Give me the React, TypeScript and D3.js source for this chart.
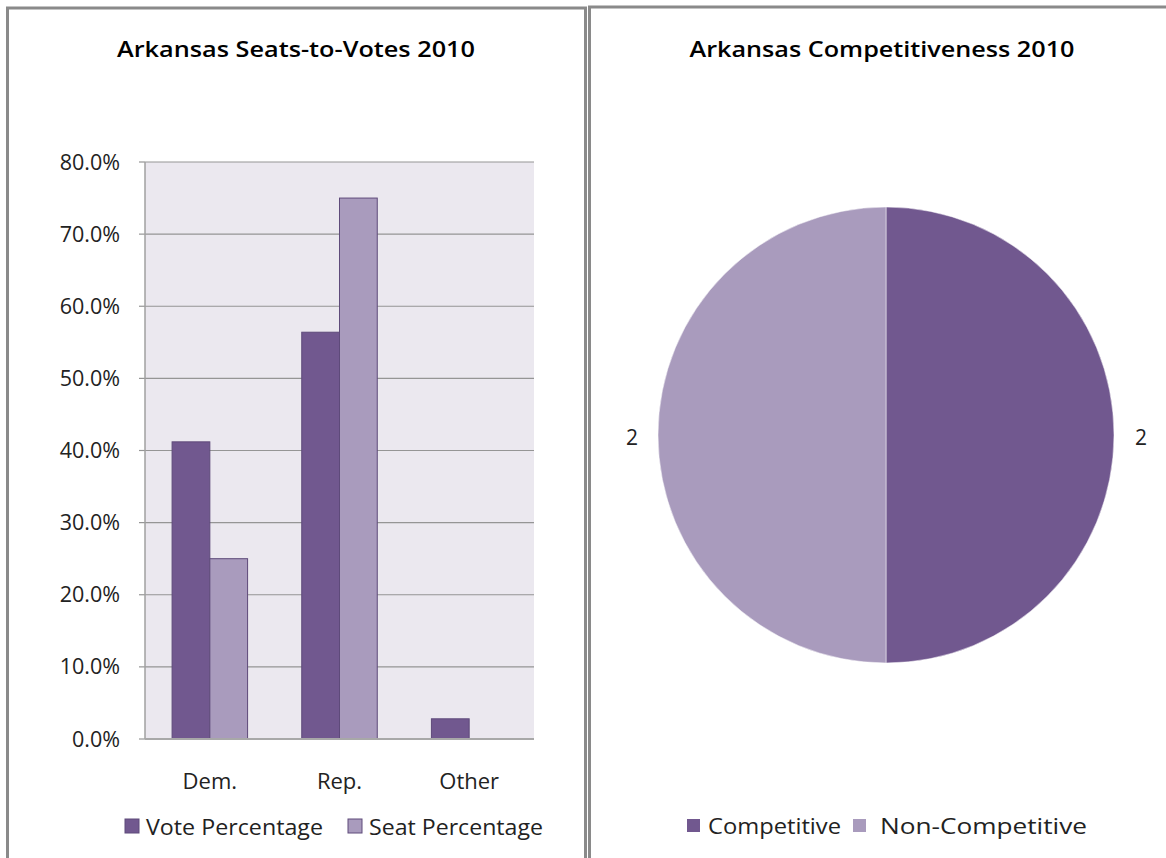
import React from "react";
import * as d3 from "d3";

const categories = ["Dem.", "Rep.", "Other"];
const seriesNames = ["Vote Percentage", "Seat Percentage"];
const voteValues = [41.2, 56.4, 2.8];
const seatValues = [25.0, 75.0, 0];
const yTicks = [0, 10, 20, 30, 40, 50, 60, 70, 80];
const pieLabels = ["Competitive", "Non-Competitive"];
const pieValues = [2, 2];

const DARK = "#71588F";
const LIGHT = "#A99BBD";
const FONT = "'Open Sans', 'Noto Sans', sans-serif";

export default function App() {
  const W = 1166, H = 858;
  const plot = { left: 145, right: 534, top: 162, bottom: 739 };
  const x0 = d3.scaleBand().domain(categories).range([plot.left, plot.right]).paddingInner(0).paddingOuter(0);
  const x1 = d3.scaleBand().domain(seriesNames).range([0, 75.5]);
  const y = d3.scaleLinear().domain([0, 80]).range([plot.bottom, plot.top]);
  const groupOffset = (x0.bandwidth() - 75.5) / 2;

  const rows = categories.map((c, i) => ({ c, vals: [voteValues[i], seatValues[i]] }));
  const colors = [DARK, LIGHT];

  const pie = d3.pie<number>().sort(null).startAngle(0).endAngle(2 * Math.PI)(pieValues);
  const arc = d3.arc<d3.PieArcDatum<number>>().innerRadius(0).outerRadius(228);
  const cx = 886, cy = 435;
  const pieColors = [DARK, LIGHT];

  return (
    <svg width={W} height={H} style={{ position: "absolute", left: 0, top: 0, background: "#fff" }} fontFamily={FONT}>
      {/* panel borders */}
      <path d="M7.5,870 L7.5,8 L585.5,8 L585.5,870" fill="none" stroke="#8a8a8a" strokeWidth={3} />
      <path d="M589.5,870 L589.5,7 L1180,7" fill="none" stroke="#8a8a8a" strokeWidth={3} />

      {/* left chart */}
      <text x={296} y={57} textAnchor="middle" fontSize={22} fontWeight="600" fill="#000" textLength={358} lengthAdjust="spacingAndGlyphs">Arkansas Seats-to-Votes 2010</text>
      <rect x={plot.left} y={plot.top} width={plot.right - plot.left} height={plot.bottom - plot.top} fill="#EBE8EF" />
      {yTicks.map((t) => (
        <g key={t}>
          {t > 0 && <line x1={plot.left} x2={plot.right} y1={y(t)} y2={y(t)} stroke="#959595" strokeWidth={1.2} />}
          <line x1={plot.left - 6} x2={plot.left} y1={y(t)} y2={y(t)} stroke="#959595" strokeWidth={1.2} />
          <text x={120} y={y(t) + 7.5} textAnchor="end" fontSize={21.5} fill="#222">{t.toFixed(1)}%</text>
        </g>
      ))}
      <line x1={plot.left} x2={plot.left} y1={plot.top} y2={plot.bottom} stroke="#a0a0a0" strokeWidth={1.5} />
      {rows.map((r) => (
        <g key={r.c}>
          {r.vals.map((v, j) =>
            v > 0 ? (
              <rect
                key={j}
                x={(x0(r.c) as number) + groupOffset + (x1(seriesNames[j]) as number)}
                y={y(v)}
                width={x1.bandwidth()}
                height={y(0) - y(v)}
                fill={colors[j]}
                stroke="#5e4a7a"
                strokeWidth={1}
              />
            ) : null
          )}
          <text x={(x0(r.c) as number) + x0.bandwidth() / 2} y={789} textAnchor="middle" fontSize={22} fill="#222">{r.c}</text>
        </g>
      ))}
      <line x1={plot.left} x2={plot.right} y1={plot.bottom} y2={plot.bottom} stroke="#a8a8a8" strokeWidth={2} />

      {/* left legend */}
      <rect x={125} y={819} width={14} height={14} fill={DARK} stroke="#5e4a7a" strokeWidth={1} />
      <text x={146} y={835} fontSize={22} fill="#222" textLength={177} lengthAdjust="spacingAndGlyphs">{seriesNames[0]}</text>
      <rect x={348} y={819} width={14} height={14} fill={LIGHT} stroke="#5e4a7a" strokeWidth={1} />
      <text x={369} y={835} fontSize={22} fill="#222" textLength={174} lengthAdjust="spacingAndGlyphs">{seriesNames[1]}</text>

      {/* right chart */}
      <text x={882} y={57} textAnchor="middle" fontSize={22} fontWeight="600" fill="#000" textLength={385} lengthAdjust="spacingAndGlyphs">Arkansas Competitiveness 2010</text>
      <g transform={`translate(${cx},${cy})`}>
        {pie.map((p, i) => (
          <path key={i} d={arc(p) as string} fill={pieColors[i]} stroke="#fff" strokeWidth={0.5} />
        ))}
      </g>
      <text x={1141} y={445} textAnchor="middle" fontSize={21} fill="#222">{pieValues[0]}</text>
      <text x={632} y={445} textAnchor="middle" fontSize={21} fill="#222">{pieValues[1]}</text>

      {/* right legend */}
      <rect x={687} y={819} width={13} height={13} fill={DARK} />
      <text x={708} y={834} fontSize={22} fill="#222" textLength={133} lengthAdjust="spacingAndGlyphs">{pieLabels[0]}</text>
      <rect x={853} y={819} width={13} height={13} fill={LIGHT} />
      <text x={880} y={834} fontSize={22} fill="#222" textLength={207} lengthAdjust="spacingAndGlyphs">{pieLabels[1]}</text>
    </svg>
  );
}
